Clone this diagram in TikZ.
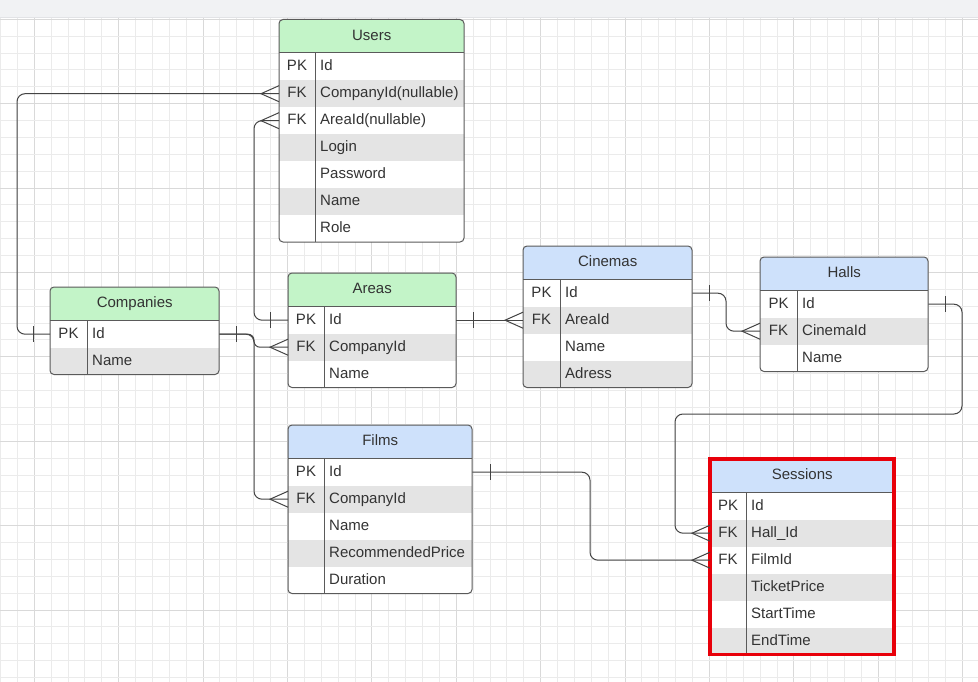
\documentclass[tikz,border=0pt]{standalone}
\usepackage{fontspec}
\setmainfont{Liberation Sans}
\usetikzlibrary{calc}
\definecolor{gridminor}{HTML}{EBEBEB}
\definecolor{gridmajor}{HTML}{D9D9D9}
\definecolor{topband}{HTML}{F1F2F4}
\definecolor{topshadow}{HTML}{E2E3E6}
\definecolor{hdrgreen}{HTML}{C3F4C8}
\definecolor{hdrblue}{HTML}{CEE1FB}
\definecolor{shadeg}{HTML}{E4E4E4}
\definecolor{bordc}{HTML}{5A5A5A}
\definecolor{txtc}{HTML}{333333}
\definecolor{connc}{HTML}{444444}
\definecolor{redb}{HTML}{E8000A}
\tikzset{
  hdr/.style={inner sep=0pt, minimum height=33.5pt, text=txtc, font=\fontsize{15}{18}\selectfont, text height=11pt, text depth=3pt},
  rowbox/.style={inner sep=0pt, minimum height=27pt, draw=none},
  celltxt/.style={inner sep=0pt, text=txtc, font=\fontsize{15}{18}\selectfont, text height=11pt, text depth=3pt},
  tborder/.style={draw=bordc, line width=1pt},
  conn/.style={draw=connc, line width=1pt},
}
\newcommand{\ertable}[9]{%
  \pgfmathsetmacro{\erbot}{#3+33.5+27*#5}%
  \begin{scope}
    \clip[rounded corners=4pt] (#2,#3) rectangle ({#2+#4},\erbot);
    \node[hdr, fill=#7, minimum width=#4pt, anchor=north west] (#1) at (#2,#3) {#8};
    \foreach \rk/\rf/\rc [count=\ri] in {#9} {
      \node[rowbox, fill=\rc, minimum width=#4pt, anchor=north west] (#1-\ri) at ({#2},{#3+33.5+27*(\ri-1)}) {};
      \node[celltxt] (#1-k\ri) at ({#2+#6/2},{#3+33.5+27*\ri-13.5}) {\rk};
      \node[celltxt, anchor=west] (#1-f\ri) at ({#2+#6+5},{#3+33.5+27*\ri-13.5}) {\rf};
    }
  \end{scope}
  \draw[tborder, rounded corners=4pt] (#2,#3) rectangle ({#2+#4},\erbot);
  \draw[tborder] (#2,{#3+33.5}) -- ({#2+#4},{#3+33.5});
  \draw[tborder] ({#2+#6},{#3+33.5}) -- ({#2+#6},\erbot);
}
\newcommand{\crowfoot}[1]{\draw[conn] ($(#1)+(0,-8)$) -- ($(#1)+(-18,0)$) -- ($(#1)+(0,8)$);}
\newcommand{\onebar}[2]{\draw[conn] ($(#1)+(#2,-8)$) -- ($(#1)+(#2,8)$);}
\begin{document}
\begin{tikzpicture}[x=1pt,y=-1pt]
\useasboundingbox (0,0) rectangle (978,682);
\fill[white] (0,0) rectangle (978,682);
% grid
\foreach \gi in {0,...,57} {
  \pgfmathsetmacro{\gx}{0.5+16.88*\gi}
  \pgfmathtruncatemacro{\gm}{mod(\gi,5)}
  \ifnum\gm=2 \draw[gridmajor, line width=0.9pt] (\gx,18) -- (\gx,682);
  \else \draw[gridminor, line width=0.9pt] (\gx,18) -- (\gx,682); \fi
}
\foreach \gj in {0,...,39} {
  \pgfmathsetmacro{\gy}{19.2+16.88*\gj}
  \pgfmathtruncatemacro{\gm}{mod(\gj,5)}
  \ifnum\gm=0 \draw[gridmajor, line width=0.9pt] (0,\gy) -- (978,\gy);
  \else \draw[gridminor, line width=0.9pt] (0,\gy) -- (978,\gy); \fi
}
\fill[topband] (0,0) rectangle (978,17.5);
\fill[topshadow] (0,17.5) rectangle (978,18.5);

% tables
\ertable{users}{279}{19.5}{185}{7}{36}{hdrgreen}{Users}{PK/Id/white, FK/CompanyId(nullable)/shadeg, FK/AreaId(nullable)/white, {}/Login/shadeg, {}/Password/white, {}/Name/shadeg, {}/Role/white}
\ertable{companies}{50}{287}{169}{2}{37}{hdrgreen}{Companies}{PK/Id/white, {}/Name/shadeg}
\ertable{areas}{288}{273}{168}{3}{36}{hdrgreen}{Areas}{PK/Id/white, FK/CompanyId/shadeg, {}/Name/white}
\ertable{cinemas}{523}{246}{169}{4}{37}{hdrblue}{Cinemas}{PK/Id/white, FK/AreaId/shadeg, {}/Name/white, {}/Adress/shadeg}
\ertable{halls}{760}{257}{168}{3}{37}{hdrblue}{Halls}{PK/Id/white, FK/CinemaId/shadeg, {}/Name/white}
\ertable{films}{288}{425}{184}{5}{36}{hdrblue}{Films}{PK/Id/white, FK/CompanyId/shadeg, {}/Name/white, {}/RecommendedPrice/shadeg, {}/Duration/white}
\ertable{sessions}{710}{459}{184}{6}{36}{hdrblue}{Sessions}{PK/Id/white, FK/Hall\_Id/shadeg, FK/FilmId/white, {}/TicketPrice/shadeg, {}/StartTime/white, {}/EndTime/shadeg}
\draw[redb, line width=3.5pt] (710,459) rectangle (894,654.5);

% connectors
\draw[conn, rounded corners=8pt] (companies-1.west) -- ++(-33,0) |- (users-2.west);
\onebar{companies-1.west}{-17}
\crowfoot{users-2.west}

\draw[conn, rounded corners=8pt] (areas-1.west) -- ++(-34,0) |- (users-3.west);
\onebar{areas-1.west}{-18}
\crowfoot{users-3.west}

\draw[conn, rounded corners=6pt] (companies-1.east) -| ($(areas-2.west)+(-34,0)$) -- (areas-2.west);
\draw[conn, rounded corners=8pt] (companies-1.east) -| ($(films-2.west)+(-34,0)$) -- (films-2.west);
\onebar{companies-1.east}{17}
\crowfoot{areas-2.west}
\crowfoot{films-2.west}

\draw[conn] (areas-1.east) -- (cinemas-2.west);
\onebar{areas-1.east}{17}
\crowfoot{cinemas-2.west}

\draw[conn, rounded corners=8pt] (cinemas-1.east) -| ($(halls-2.west)+(-34,0)$) -- (halls-2.west);
\onebar{cinemas-1.east}{17}
\crowfoot{halls-2.west}

\coordinate (hk) at (962,414);
\draw[conn, rounded corners=8pt] (halls-1.east) -| (hk) -| ($(sessions-2.west)+(-35,0)$) -- (sessions-2.west);
\onebar{halls-1.east}{17}
\crowfoot{sessions-2.west}

\draw[conn, rounded corners=8pt] (films-1.east) -| ($(sessions-3.west)+(-120,0)$) -- (sessions-3.west);
\onebar{films-1.east}{18}
\crowfoot{sessions-3.west}
\end{tikzpicture}
\end{document}
